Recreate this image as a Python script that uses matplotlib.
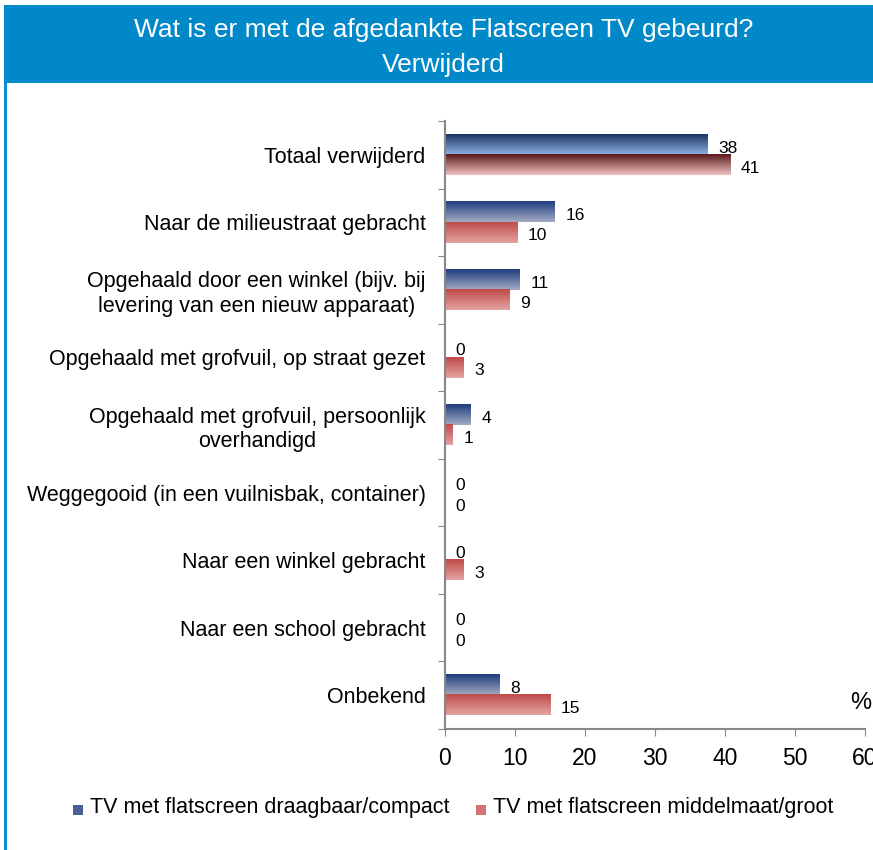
import matplotlib
matplotlib.use("Agg")
import matplotlib.pyplot as plt
import numpy as np
from matplotlib.colors import LinearSegmentedColormap
from matplotlib.patches import Rectangle

plt.rcParams['font.family'] = ['Liberation Sans', 'DejaVu Sans']

# data (percentages)
categories = [
    "Totaal verwijderd",
    "Naar de milieustraat gebracht",
    "Opgehaald door een winkel (bijv. bij\nlevering van een nieuw apparaat)",
    "Opgehaald met grofvuil, op straat gezet",
    "Opgehaald met grofvuil, persoonlijk\noverhandigd",
    "Weggegooid (in een vuilnisbak, container)",
    "Naar een winkel gebracht",
    "Naar een school gebracht",
    "Onbekend",
]
compact = [37.5, 15.7, 10.7, 0, 3.7, 0, 0, 0, 7.8]
groot = [40.8, 10.3, 9.2, 2.7, 1.1, 0, 2.7, 0, 15.0]
series_names = ["TV met flatscreen draagbaar/compact", "TV met flatscreen middelmaat/groot"]
xticks = [0, 10, 20, 30, 40, 50, 60]

blue_total = LinearSegmentedColormap.from_list("bt", ["#1b3463", "#8db4e4"])
blue_rest = LinearSegmentedColormap.from_list("br", ["#1f3d7e", "#a3aac3"])
red_total = LinearSegmentedColormap.from_list("rt", ["#5c1a1c", "#f0c2c2"])
red_rest = LinearSegmentedColormap.from_list("rr", ["#bf4b48", "#e4a3a3"])

fig = plt.figure(figsize=(8.73, 8.5), dpi=100)

# title band
fig.patches.append(Rectangle((4 / 873, 1 - 83 / 850), 1, 78 / 850, transform=fig.transFigure,
                             facecolor="#0088c8", edgecolor="none"))
fig.patches.append(Rectangle((4 / 873, 0), 2.5 / 873, 1 - 83 / 850, transform=fig.transFigure,
                             facecolor="#0a8fd0", edgecolor="none"))
fig.text(0.508, 1 - 30 / 850, "Wat is er met de afgedankte Flatscreen TV gebeurd?", color="white",
         fontsize=19, ha="center", va="center")
fig.text(0.508, 1 - 65 / 850, "Verwijderd", color="white", fontsize=19, ha="center", va="center")

ax = fig.add_axes([445 / 873, 1 - 729 / 850, 420 / 873, 608 / 850])
n = len(categories)
ax.set_xlim(0, 60)
ax.set_ylim(n, 0)

grad = np.linspace(0, 1, 64).reshape(-1, 1)
bh = 0.3
for i in range(n):
    yc = i + 0.5
    for val, y0, cmap in [(compact[i], yc - bh, blue_total if i == 0 else blue_rest),
                          (groot[i], yc, red_total if i == 0 else red_rest)]:
        if val > 0:
            ax.imshow(grad, cmap=cmap, aspect="auto", extent=[0, val, y0 + bh, y0],
                      interpolation="bilinear", zorder=2)
        ax.text(val + 1.5, y0 + bh / 2 + 0.05, "%d" % round(val), fontsize=12.5,
                ha="left", va="center", zorder=3)

ax.set_xticks(xticks)
ax.set_xticklabels([str(t) for t in xticks], fontsize=16.5)
ax.set_yticks(np.arange(n + 1))
ax.set_yticklabels([])
ax.set_yticks(np.arange(n) + 0.5, minor=True)
ax.set_yticklabels(categories, minor=True, fontsize=15.5, ha="right", multialignment="center",
                   linespacing=1.25)
ax.tick_params(axis="y", which="minor", length=0, pad=14)
ax.tick_params(axis="y", which="major", length=5, color="#888888", direction="out")
ax.tick_params(axis="x", length=5, color="#888888", pad=8)
for s in ["top", "right"]:
    ax.spines[s].set_visible(False)
ax.spines["left"].set_color("#888888")
ax.spines["bottom"].set_color("#888888")
ax.spines["left"].set_linewidth(1.5)
ax.spines["bottom"].set_linewidth(1.5)

fig.text(850 / 873, 1 - 703 / 850, "%", fontsize=17, ha="left", va="center")

# legend
fig.patches.append(Rectangle((73 / 873, 1 - 815 / 850), 10 / 873, 10 / 850, transform=fig.transFigure,
                             facecolor="#4a5f96", edgecolor="none"))
fig.text(90 / 873, 1 - 808 / 850, series_names[0], fontsize=15.5, ha="left", va="center")
fig.patches.append(Rectangle((476 / 873, 1 - 815 / 850), 10 / 873, 10 / 850, transform=fig.transFigure,
                             facecolor="#d27473", edgecolor="none"))
fig.text(493 / 873, 1 - 808 / 850, series_names[1], fontsize=15.5, ha="left", va="center")

fig.savefig("out.png", dpi=100)
